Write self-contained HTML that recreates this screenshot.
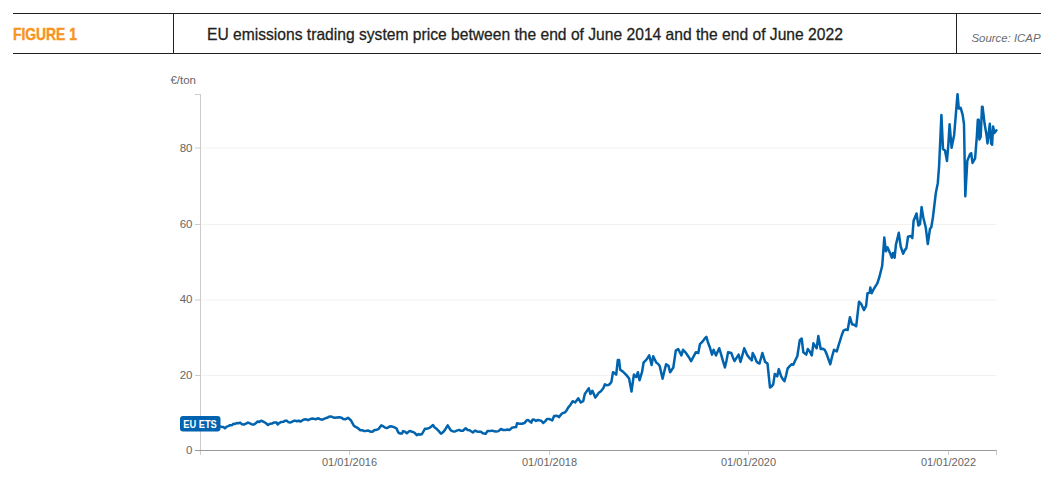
<!DOCTYPE html>
<html><head><meta charset="utf-8">
<style>
html,body{margin:0;padding:0;background:#fff;}
body{width:1052px;height:497px;position:relative;overflow:hidden;font-family:"Liberation Sans",sans-serif;}
.hl{position:absolute;left:13px;width:1028px;height:1.3px;background:#231f20;}
.vl{position:absolute;top:13px;height:41px;width:1.3px;background:#231f20;}
.fig{position:absolute;left:13px;top:25px;font-size:16.3px;transform:scaleX(0.851);font-weight:bold;color:#f7941d;-webkit-text-stroke:0.45px #f7941d;white-space:nowrap;transform-origin:0 0;}
.title{position:absolute;left:207px;top:25px;font-size:16.5px;transform:scaleX(0.947);-webkit-text-stroke:0.3px #231f20;color:#231f20;white-space:nowrap;transform-origin:0 0;}
.src{position:absolute;right:11.5px;top:31.7px;font-size:11.4px;font-style:italic;color:#6a6b6e;white-space:nowrap;}
svg{position:absolute;left:0;top:0;}
</style></head><body>
<div class="hl" style="top:13px"></div>
<div class="hl" style="top:53px"></div>
<div class="vl" style="left:173px"></div>
<div class="vl" style="left:956px"></div>
<div class="fig" id="fig">FIGURE 1</div>
<div class="title" id="title">EU emissions trading system price between the end of June 2014 and the end of June 2022</div>
<div class="src" id="src">Source: ICAP</div>
<svg width="1052" height="497" viewBox="0 0 1052 497" font-family="Liberation Sans, sans-serif">
 <g stroke="#f2f2f2" stroke-width="1">
  <line x1="201" y1="375.5" x2="996.5" y2="375.5"/>
  <line x1="201" y1="300" x2="996.5" y2="300"/>
  <line x1="201" y1="224.5" x2="996.5" y2="224.5"/>
  <line x1="201" y1="148" x2="996.5" y2="148"/>
 </g>
 <g stroke="#cccccc" stroke-width="1">
  <line x1="200.5" y1="94" x2="200.5" y2="455"/>
  <line x1="195" y1="94.5" x2="200.5" y2="94.5"/>
  <line x1="195" y1="148" x2="200.5" y2="148"/>
  <line x1="195" y1="224.5" x2="200.5" y2="224.5"/>
  <line x1="195" y1="300" x2="200.5" y2="300"/>
  <line x1="195" y1="375.5" x2="200.5" y2="375.5"/>
  <line x1="195" y1="450.5" x2="200.5" y2="450.5"/>
  <line x1="349.5" y1="450" x2="349.5" y2="455"/>
  <line x1="549.5" y1="450" x2="549.5" y2="455"/>
  <line x1="748.5" y1="450" x2="748.5" y2="455"/>
  <line x1="948.5" y1="450" x2="948.5" y2="455"/>
  <line x1="996.5" y1="450" x2="996.5" y2="455"/>
 </g>
 <line x1="195" y1="450.5" x2="996.5" y2="450.5" stroke="#999999" stroke-width="1.2"/>
 <g fill="#666666" font-size="11.5" text-anchor="end">
  <text x="196" y="84">€/ton</text>
  <text x="192.5" y="151.7">80</text>
  <text x="192.5" y="227.9">60</text>
  <text x="192.5" y="303.2">40</text>
  <text x="192.5" y="378.9">20</text>
  <text x="192.5" y="453.9">0</text>
 </g>
 <g fill="#666666" font-size="11" text-anchor="middle">
  <text x="349.5" y="466">01/01/2016</text>
  <text x="549.5" y="466">01/01/2018</text>
  <text x="748.5" y="466">01/01/2020</text>
  <text x="948.5" y="466">01/01/2022</text>
 </g>
 <polyline fill="none" stroke="#0063ad" stroke-width="2.5" stroke-linejoin="round" stroke-linecap="round" points="200.5,426.0 202.4,425.7 204.3,425.4 206.2,426.2 208.1,425.3 210.0,426.0 211.7,426.1 213.3,425.9 215.0,425.5 216.7,426.3 218.3,425.6 220.0,426.4 221.7,426.9 223.3,427.0 225.0,428.3 226.7,426.6 228.3,426.1 230.0,425.2 231.7,425.3 233.3,423.8 235.0,424.0 236.7,423.1 238.3,423.3 240.0,422.6 242.0,424.3 244.0,424.5 246.0,423.7 248.0,422.6 250.0,423.4 252.0,424.5 254.0,424.5 256.0,423.0 257.7,421.5 259.3,422.0 261.0,420.7 264.0,422.0 266.0,423.2 268.0,425.0 270.0,423.7 272.0,423.5 274.4,422.4 276.7,422.6 277.6,424.5 279.5,422.9 281.4,421.9 283.3,421.8 285.2,420.7 286.8,420.8 288.4,422.1 290.0,422.6 291.9,421.9 293.8,420.7 295.4,420.7 297.1,421.2 298.8,420.7 300.4,421.6 303.3,419.7 305.6,419.2 308.0,420.2 310.9,418.8 313.2,418.6 315.6,419.3 318.5,418.3 320.4,419.3 322.3,419.7 324.6,418.6 327.0,417.8 328.9,416.8 330.8,416.4 332.7,417.2 334.6,417.8 337.0,417.4 339.4,417.2 341.3,417.6 343.2,419.1 345.1,419.3 348.0,417.8 350.8,420.2 353.7,425.4 355.6,426.9 357.5,427.8 360.3,430.2 362.2,430.2 364.1,431.1 366.0,430.9 367.9,430.5 369.5,431.2 371.2,431.8 372.9,431.5 374.5,429.9 376.4,429.9 378.3,429.2 381.2,425.4 383.1,426.2 385.0,427.6 386.9,428.1 388.8,427.0 390.7,426.2 392.6,426.7 394.5,427.4 396.4,428.3 398.3,432.6 400.2,433.5 402.1,433.5 403.0,431.1 404.9,431.6 406.8,433.3 409.7,430.9 412.0,431.7 414.4,432.6 416.8,435.2 418.5,434.1 420.3,434.7 422.0,434.0 424.9,428.8 427.2,428.7 429.6,427.8 431.3,426.5 433.0,425.0 434.6,427.4 436.3,428.6 438.6,430.9 441.0,433.7 442.9,432.3 444.8,430.2 447.7,425.4 450.6,430.2 452.2,431.1 453.9,431.6 455.6,431.2 457.4,430.4 459.1,429.9 461.0,430.8 462.9,430.7 465.7,428.3 467.6,430.0 469.5,430.2 471.1,431.3 472.8,432.5 475.2,430.6 477.1,431.5 479.0,431.8 480.9,431.8 482.8,433.3 485.7,433.7 487.6,430.9 490.0,431.1 492.3,430.6 494.2,431.3 496.1,431.6 498.5,431.1 500.9,429.0 503.2,430.0 505.6,429.9 507.5,429.6 509.4,429.9 512.3,427.6 514.2,427.2 516.1,427.1 517.0,423.3 519.4,423.8 521.8,423.8 524.6,423.0 526.3,420.7 528.0,420.0 529.6,421.2 531.3,422.6 532.7,419.5 534.4,419.7 536.0,420.9 537.9,420.0 539.8,420.4 541.5,421.0 543.2,423.0 545.1,421.4 547.0,419.0 548.7,418.9 550.5,419.5 552.2,420.4 554.1,416.0 557.0,415.7 558.9,417.1 561.4,414.1 563.0,412.9 564.7,412.6 566.3,410.9 568.3,407.4 570.3,405.2 572.7,401.2 575.1,402.5 578.3,398.3 580.8,402.5 583.2,401.2 584.8,394.0 586.8,391.1 588.8,388.3 590.4,394.0 592.4,390.7 595.3,397.6 596.9,395.4 598.5,393.1 600.9,391.3 603.3,388.3 604.9,384.3 606.5,385.2 608.1,385.1 609.8,384.1 611.4,381.9 613.0,372.2 614.6,373.0 616.2,374.6 617.8,360.1 619.1,360.1 620.2,369.8 622.6,371.4 624.2,372.9 625.9,374.6 627.5,376.4 629.1,378.6 631.5,391.5 633.9,374.6 636.3,377.0 637.9,372.2 639.5,380.3 642.0,372.2 643.6,362.5 645.5,360.7 647.3,358.4 649.2,355.3 651.6,365.0 653.2,356.2 656.4,362.7 658.0,363.7 659.7,365.9 662.6,378.8 664.4,371.0 666.1,364.3 668.5,365.9 670.1,372.3 673.3,367.5 675.8,350.6 678.2,349.0 681.4,355.4 683.0,349.8 685.0,351.8 687.0,354.6 689.0,357.4 691.1,361.1 693.5,356.6 695.9,352.2 698.3,353.0 699.9,344.2 701.5,342.7 703.1,340.9 704.8,338.5 706.4,336.9 708.0,342.5 710.0,347.8 712.0,354.6 713.6,349.8 716.0,355.4 717.6,351.7 719.2,348.2 721.1,354.4 723.0,361.2 724.9,367.5 726.5,360.6 728.1,352.2 731.3,353.0 732.9,357.4 734.5,361.1 736.5,357.9 738.6,354.6 740.5,361.9 742.4,355.2 744.2,348.2 747.4,355.4 749.6,358.1 751.8,360.3 752.7,353.0 754.5,356.3 756.3,361.1 757.9,362.9 759.5,363.5 762.4,353.0 765.1,361.9 767.5,363.5 770.0,387.6 771.6,386.4 773.2,384.4 774.8,373.9 777.2,376.4 778.8,369.1 781.2,376.4 782.9,379.4 784.5,381.2 786.1,375.2 787.7,368.3 789.7,366.1 791.7,364.3 793.3,364.8 795.3,360.3 797.3,356.2 799.8,340.1 801.7,338.5 803.3,352.2 806.2,354.6 807.8,349.0 809.8,351.6 811.8,355.4 813.4,343.3 815.0,346.0 816.7,348.2 818.3,336.1 820.7,349.0 822.7,348.7 824.7,349.8 826.6,353.9 828.4,359.0 830.3,364.3 832.1,356.5 834.0,349.8 836.8,351.4 838.4,345.9 840.0,340.9 841.8,335.0 843.5,330.6 845.6,329.5 847.7,329.9 849.9,317.2 852.0,324.2 854.1,324.7 856.2,326.3 859.0,301.7 861.1,303.8 863.9,310.1 866.1,305.9 867.5,293.2 869.6,292.5 870.3,287.6 871.7,293.2 873.6,289.3 875.4,286.4 877.3,283.4 879.4,277.0 882.2,265.8 884.3,237.6 885.9,251.3 887.5,247.3 890.3,253.7 891.9,257.7 893.0,252.9 894.6,257.7 895.9,244.9 898.8,232.8 900.7,246.5 903.1,253.7 904.8,250.1 906.4,248.1 908.0,236.8 910.7,236.0 912.3,238.1 913.6,220.7 916.5,213.5 918.4,225.6 920.0,224.0 921.6,207.1 923.3,217.5 925.7,227.2 927.8,244.1 930.0,228.8 931.3,227.2 932.9,217.5 935.9,192.4 937.8,183.2 939.1,166.2 941.4,115.1 943.0,149.1 945.0,150.5 947.0,160.9 948.3,145.2 949.6,124.3 951.6,147.8 954.2,134.7 956.1,111.2 957.5,94.2 958.8,108.6 960.7,107.9 962.7,115.1 964.0,124.3 965.3,196.3 967.3,160.9 969.9,154.4 971.2,153.1 972.5,162.9 975.1,158.3 976.8,136.8 977.8,119.8 978.7,119.8 979.4,139.4 980.7,136.8 982.0,106.8 982.6,106.8 984.6,123.8 986.6,135.5 987.5,143.4 989.8,123.8 991.1,143.4 992.1,144.7 993.1,126.4 994.4,132.9 996.4,130.3"/>
 <rect x="180" y="416" width="40.5" height="15.5" rx="3" ry="3" fill="#0063af"/>
 <text x="183.2" y="427.6" fill="#ffffff" font-size="10" font-weight="bold" textLength="33.6" lengthAdjust="spacingAndGlyphs">EU ETS</text>
</svg>
</body></html>
